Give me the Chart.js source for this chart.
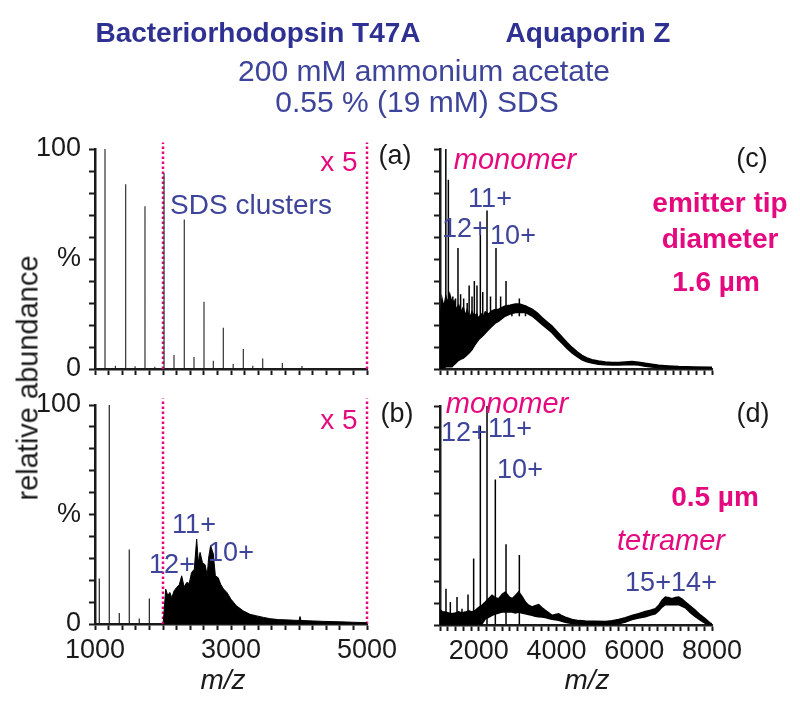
<!DOCTYPE html>
<html>
<head>
<meta charset="utf-8">
<script src="https://cdn.jsdelivr.net/npm/chart.js@4.4.1/dist/chart.umd.min.js"></script>
<style>
  body { margin: 0; background: #fff; }
  #fig { position: relative; width: 800px; height: 708px; overflow: hidden;
         font-family: "Liberation Sans", Arial, sans-serif; }
  #fig canvas { position: absolute; left: 0; top: 0; }
  .t { position: absolute; transform: translate(-50%, -50%); white-space: nowrap; line-height: 1; }
  .blue { color: #3d4499; }
  .mag { color: #e5097f; }
  .blk { color: #1a1a1a; }
  .b { font-weight: bold; }
  .i { font-style: italic; }
</style>
</head>
<body>
<div id="fig">
  <canvas id="pa" width="800" height="708"></canvas>
  <canvas id="pb" width="800" height="708"></canvas>
  <canvas id="pc" width="800" height="708"></canvas>
  <canvas id="pd" width="800" height="708"></canvas>

  <div class="t b" style="left:258px;top:33px;font-size:28px;color:#2e3192">Bacteriorhodopsin T47A</div>
  <div class="t b" style="left:588px;top:33px;font-size:28px;color:#2e3192">Aquaporin Z</div>
  <div class="t blue" style="left:424px;top:71px;font-size:30px">200 mM ammonium acetate</div>
  <div class="t blue" style="left:417px;top:102px;font-size:30px">0.55 % (19 mM) SDS</div>
  <div class="t blk" style="left:28px;top:378px;font-size:29px;transform:translate(-50%,-50%) rotate(-90deg)">relative abundance</div>

  <div class="t mag" style="left:339px;top:162px;font-size:28px">x 5</div>
  <div class="t blk" style="left:395px;top:155px;font-size:27px">(a)</div>
  <div class="t blue" style="left:251px;top:205px;font-size:28px">SDS clusters</div>

  <div class="t mag" style="left:339px;top:420px;font-size:28px">x 5</div>
  <div class="t blk" style="left:397px;top:413px;font-size:27px">(b)</div>
  <div class="t blue" style="left:194px;top:524px;font-size:27px">11+</div>
  <div class="t blue" style="left:172px;top:564px;font-size:27px">12+</div>
  <div class="t blue" style="left:231px;top:552px;font-size:27px">10+</div>
  <div class="t blk i" style="left:223px;top:680px;font-size:28px">m/z</div>

  <div class="t mag i" style="left:515px;top:159px;font-size:29px">monomer</div>
  <div class="t blue" style="left:490px;top:198px;font-size:27px">11+</div>
  <div class="t blue" style="left:465px;top:228px;font-size:27px">12+</div>
  <div class="t blue" style="left:513px;top:235px;font-size:27px">10+</div>
  <div class="t blk" style="left:752px;top:158px;font-size:27px">(c)</div>
  <div class="t mag b" style="left:720px;top:203px;font-size:28px">emitter tip</div>
  <div class="t mag b" style="left:720px;top:239px;font-size:28px">diameter</div>
  <div class="t mag b" style="left:716px;top:282px;font-size:28px">1.6 µm</div>

  <div class="t mag i" style="left:507px;top:403px;font-size:29px">monomer</div>
  <div class="t blue" style="left:464px;top:432px;font-size:27px">12+</div>
  <div class="t blue" style="left:510px;top:428px;font-size:27px">11+</div>
  <div class="t blue" style="left:520px;top:469px;font-size:27px">10+</div>
  <div class="t blk" style="left:753px;top:413px;font-size:27px">(d)</div>
  <div class="t mag b" style="left:715px;top:497px;font-size:28px">0.5 µm</div>
  <div class="t mag i" style="left:671px;top:540px;font-size:29px">tetramer</div>
  <div class="t blue" style="left:648px;top:582px;font-size:27px">15+</div>
  <div class="t blue" style="left:694px;top:582px;font-size:27px">14+</div>
  <div class="t blk i" style="left:587px;top:680px;font-size:28px">m/z</div>
</div>

<script>
// panel (a): bR T47A, 1.6 um tip - SDS cluster peaks
const aPeakMz  = [1147, 1300, 1451, 1590, 1735, 1880, 2015, 2162, 2313, 2456, 2603, 2740, 2887, 3032, 3181, 3320, 3466, 3755, 4044];
const aPeakPct = [100, 1.5, 84, 1.2, 74, 1.0, 89, 6.4, 68, 5.5, 30.6, 3.8, 18.8, 2.3, 9.1, 1.5, 4.8, 2.7, 1.4];

// panel (b): bR T47A, 0.5 um tip
const bPeakMz  = [1063, 1210, 1357, 1504, 1651, 1799];
const bPeakPct = [20.8, 100, 5, 34, 2.5, 11.6];
const bHumpMz  = [2005, 2040, 2070, 2100, 2130, 2160, 2200, 2240, 2275, 2310, 2350, 2385, 2420, 2460, 2495, 2520, 2545,
                  2580, 2620, 2650, 2670, 2700, 2740, 2770, 2810, 2850, 2890, 2940, 3000, 3080, 3180, 3280, 3380, 3480,
                  3580, 3700, 3870, 4000, 4015, 4030, 4200, 4360, 4600, 4800, 5000];
const bHumpTop = [1, 15.9, 13, 14.4, 12, 15, 16.7, 18, 22, 17, 19, 18.5, 23.5, 25, 38.8, 28, 32.7,
                  28.1, 27, 22, 30, 35.8, 32, 22, 21.2, 18, 16, 14.4, 11.3, 8.3, 6, 4.4, 3.7, 3,
                  2.4, 2, 1.8, 1.6, 3.4, 1.6, 1.4, 1.2, 1, 0.8, 0.6];

// panel (c): AqpZ, 1.6 um tip
const cPeakMz  = [1150, 1215, 1330, 1400, 1463, 1530, 1609, 1700, 1750, 1824, 1884, 1952, 2038, 2100, 2210, 2300, 2441, 2560, 2699, 2850, 3042, 3200];
const cPeakPct = [100, 86, 33, 32, 55, 34, 32, 30, 38, 33, 40, 38, 61, 35, 72, 33, 55, 33, 40, 29, 32, 29];
const cBandMz  = [1000, 1051, 1100, 1150, 1200, 1250, 1309, 1360, 1420, 1481, 1540, 1600, 1652, 1700, 1760, 1824, 1880,
                  1940, 1995, 2060, 2120, 2167, 2250, 2338, 2420, 2510, 2600, 2681, 2800, 2939, 3050, 3196, 3368, 3500,
                  3625, 3750, 3883, 4010, 4140, 4270, 4398, 4530, 4655, 4780, 4912, 5080, 5255, 5430, 5599, 5770, 5942,
                  6110, 6285, 6450, 6629, 6880, 7144, 7550, 7958, 8000];
const cBandTop = [20, 32, 28, 33, 30, 34, 30, 31, 27, 29, 26, 28, 24, 27, 23, 26, 24,
                  25, 23, 25, 24, 26, 25, 26.4, 27, 27.2, 28, 28.7, 29, 29.5, 29.5, 28.7, 27.2, 25.5,
                  23.4, 21.5, 19.5, 17, 14.5, 12, 9.8, 7.8, 6.2, 5, 4.2, 3.6, 3.2, 3, 3, 3.2, 3.4,
                  3.1, 2.6, 2.2, 1.7, 1.4, 1.1, 0.9, 0.8, 0.8];
const cBandLow = [0, 0.5, 0.5, 1, 1, 1, 1, 2, 3, 4, 4.5, 5, 5.7, 6.5, 7.5, 8.8, 10.5,
                  12, 13.4, 14.5, 15.5, 16.4, 18, 19.5, 20.8, 21.8, 23, 24.1, 25, 25.7, 25.7, 25.7, 24.1, 22.2,
                  20.3, 18.5, 16.5, 14, 11.7, 9.3, 7.3, 5.6, 4.2, 3.3, 2.7, 2.2, 1.9, 1.8, 1.8, 1.9, 2.1,
                  1.8, 1.3, 0.9, 0.6, 0.4, 0.3, 0.1, 0, 0];

// panel (d): AqpZ, 0.5 um tip
const dPeakMz  = [1154, 1266, 1438, 1566, 1721, 1866, 2038, 2210, 2424, 2699, 3042];
const dPeakPct = [16.6, 10.5, 12.8, 7.4, 13.9, 30.4, 91, 100, 66.4, 36.9, 32];
const dBandMz  = [1000, 1060, 1137, 1220, 1309, 1400, 1480, 1560, 1652, 1740, 1820, 1910, 1990, 2080, 2167, 2250, 2338,
                  2420, 2510, 2600, 2681, 2770, 2853, 2940, 3025, 3110, 3196, 3280, 3368, 3450, 3540, 3620, 3711, 3800,
                  3883, 3970, 4055, 4140, 4225, 4398, 4570, 4740, 5000, 5255, 5430, 5599, 5770, 5942, 6110, 6285, 6420,
                  6542, 6630, 6714, 6800, 6890, 6972, 7060, 7144, 7230, 7315, 7450, 7572, 7700, 7829, 7958, 8000];
const dBandTop = [7, 6, 5.9, 5.5, 5.1, 5.5, 6, 5.5, 5.9, 6.5, 6, 6.7, 8, 9, 10.5, 12, 13.6,
                  12.5, 12, 14, 15.1, 13, 12, 13.5, 15.1, 13, 10.5, 9, 8.2, 8.8, 9.3, 8, 6.7, 5.5,
                  4.4, 4.8, 5.1, 4.2, 3.6, 2.5, 2, 1.8, 1.7, 1.6, 2, 2.5, 3.3, 4.4, 5.2, 6.2, 6.8,
                  7.4, 9, 11.3, 12.8, 12.4, 12, 12.6, 12.8, 11.8, 10.5, 8.5, 6.7, 4.6, 2.8, 0.8, 0.5];
const dBandLow = [0.3, 0.3, 0.3, 0.3, 0.3, 0.3, 0.3, 0.3, 0.3, 0.3, 0.3, 0.4, 0.5, 0.5, 2.8, 3.5, 4.4,
                  5, 5.5, 5.9, 5.9, 5.9, 5.9, 5.5, 5.9, 5.5, 5.1, 4.8, 4.4, 4, 3.8, 3.6, 3.4, 3,
                  2.6, 2.4, 2.2, 1.7, 1.3, 0.7, 0.4, 0.3, 0.2, 0.2, 0.4, 0.6, 1.3, 2.5, 3.2, 3.8, 4.5,
                  5.1, 6.5, 8.2, 9.3, 9.3, 9.3, 9.3, 9.3, 8.5, 7.9, 5.5, 3.8, 2.2, 0.8, 0.2, 0];

const leftXLabels  = [1000, 3000, 5000];
const rightXLabels = [2000, 4000, 6000, 8000];
const yLabelText   = { 0: "0", 50: "%", 100: "100" };
const dashedMz     = [2000, 5000];

const FONT = '"Liberation Sans", Arial, sans-serif';
const INK = "#1a1a1a";
const MAG = "#e5097f";

// each peak is a vertical stroke; a null point breaks the line between peaks
const sticks = (mz, pct, base) => mz.flatMap((m, i) => [{ x: m, y: base }, { x: m, y: pct[i] }, { x: m, y: null }]);
const pts = (mz, vals) => mz.map((m, i) => ({ x: m, y: vals[i] }));

function stickSet(mz, pct, base, color, width) {
  return { data: sticks(mz, pct, base), borderColor: color, borderWidth: width,
           pointRadius: 0, tension: 0, spanGaps: false };
}
function dotted(m) {
  return { data: [{ x: m, y: 0 }, { x: m, y: 103 }], borderColor: MAG, borderWidth: 2.5,
           borderDash: [2.5, 2.5], pointRadius: 0, clip: false };
}

function panel(id, g, xMin, xMax, xLabels, yText, datasets) {
  const yW = yText ? 95 : 8;
  const xH = xLabels.length ? 50 : 10;
  const grid = { drawOnChartArea: false, drawTicks: true, tickLength: 6, tickWidth: 2, tickColor: INK };
  const border = { color: INK, width: 2.5 };
  new Chart(document.getElementById(id), {
    type: "line",
    data: { datasets },
    options: {
      responsive: false, animation: false, events: [],
      layout: { padding: { left: g.L - yW, top: g.T, right: 800 - g.R, bottom: 708 - g.B - xH } },
      plugins: { legend: { display: false }, tooltip: { enabled: false } },
      scales: {
        x: {
          type: "linear", min: xMin, max: xMax,
          afterFit: s => { s.height = xH; },
          grid, border,
          ticks: {
            stepSize: 200, autoSkip: false, maxRotation: 0, minRotation: 0, padding: 4,
            color: INK, font: { family: FONT, size: 27 },
            callback: v => xLabels.includes(Math.round(v)) ? String(Math.round(v)) : "",
          },
        },
        y: {
          min: 0, max: 100,
          afterFit: s => { s.width = yW; },
          grid, border,
          ticks: {
            stepSize: 10, autoSkip: false, padding: 8,
            color: INK, font: { family: FONT, size: 27 },
            callback: v => (yText && yText[Math.round(v)]) || "",
          },
        },
      },
    },
  });
}

panel("pa", { L: 95, R: 367, T: 149, B: 369 }, 1000, 5000, [], yLabelText, [
  stickSet(aPeakMz, aPeakPct, 0.5, "#333", 1.2),
  ...dashedMz.map(dotted),
]);

panel("pb", { L: 95, R: 367, T: 405, B: 624 }, 1000, 5000, leftXLabels, yLabelText, [
  { data: pts(bHumpMz, bHumpTop), borderColor: "#000", borderWidth: 1, backgroundColor: "#000",
    fill: "origin", pointRadius: 0, tension: 0 },
  stickSet(bPeakMz, bPeakPct, 0.5, "#222", 1.2),
  ...dashedMz.map(dotted),
]);

panel("pc", { L: 440, R: 712, T: 149, B: 369 }, 1000, 8000, [], null, [
  { data: pts(cBandMz, cBandTop), borderColor: "#000", borderWidth: 1.5, backgroundColor: "#000",
    fill: "+1", pointRadius: 0, tension: 0 },
  { data: pts(cBandMz, cBandLow), borderColor: "#000", borderWidth: 1.5, pointRadius: 0, tension: 0 },
  stickSet(cPeakMz, cPeakPct, 24, "#000", 1.5),
]);

panel("pd", { L: 440, R: 712, T: 406, B: 625 }, 1000, 8000, rightXLabels, null, [
  { data: pts(dBandMz, dBandTop), borderColor: "#000", borderWidth: 1.5, backgroundColor: "#000",
    fill: "+1", pointRadius: 0, tension: 0 },
  { data: pts(dBandMz, dBandLow), borderColor: "#000", borderWidth: 1.5, pointRadius: 0, tension: 0 },
  stickSet(dPeakMz, dPeakPct, 0.5, "#000", 1.5),
]);
</script>
</body>
</html>
